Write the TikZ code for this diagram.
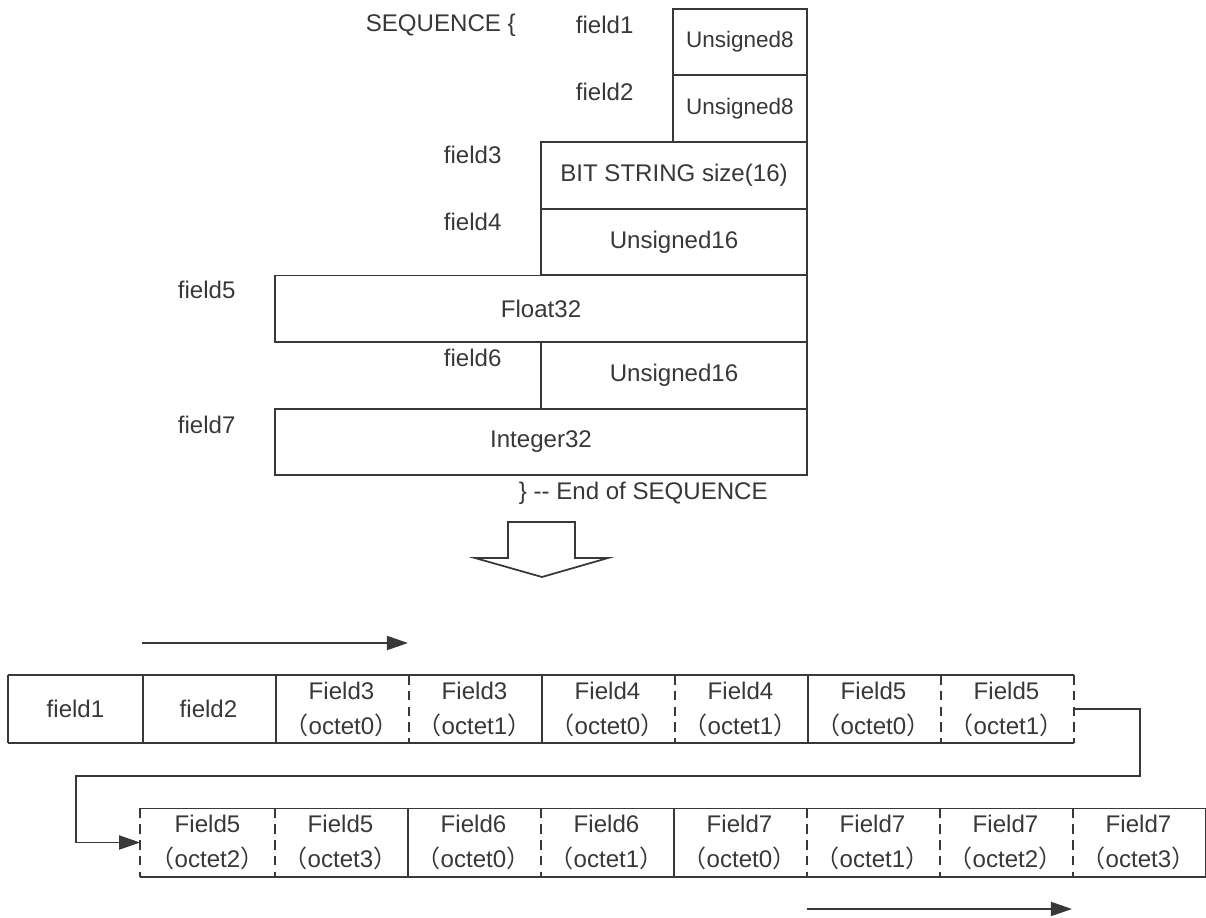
\documentclass[tikz,border=0pt]{standalone}
\usepackage{fontspec}
\setmainfont{Liberation Sans}
\newfontfamily\jpfont{Noto Sans CJK JP}
\usetikzlibrary{arrows.meta}
\definecolor{ink}{gray}{0.22}
\newcommand{\oct}[1]{{\jpfont （}octet#1{\jpfont ）}}

\begin{document}
\begin{tikzpicture}[x=0.02cm, y=-0.02cm, line width=1pt, draw=ink, text=ink,
    font=\fontsize{13.7}{16}\selectfont,
    typebox/.style={draw, fill=white, inner sep=0pt, minimum height=1.333cm},
    tag/.style={anchor=west, inner sep=0pt},
    cell/.style={inner sep=0pt, minimum width=2.66cm, minimum height=1.33cm,
        align=center, font=\fontsize{13.7}{20}\selectfont},
    cut/.style={dash pattern=on 5.5pt off 3.5pt},
    flow/.style={-{Triangle[length=12pt, width=8pt]}}]
    \useasboundingbox (0,0) rectangle (1206,918);

    % the SEQUENCE, one box per field
    \node[tag] (seqopen) at (365,25) {SEQUENCE \{};
    \node[typebox, minimum width=2.68cm, font=\fontsize{12.8}{15}\selectfont] (t1) at (740,42) {Unsigned8};
    \node[typebox, minimum width=2.68cm, font=\fontsize{12.8}{15}\selectfont] (t2) at (740,108.7) {Unsigned8};
    \node[typebox, minimum width=5.32cm] (t3) at (674,175.3) {BIT STRING size(16)};
    \node[typebox, minimum width=5.32cm] (t4) at (674,242) {Unsigned16};
    \node[typebox, minimum width=10.64cm] (t5) at (541,308.7) {Float32};
    \node[typebox, minimum width=5.32cm] (t6) at (674,375.3) {Unsigned16};
    \node[typebox, minimum width=10.64cm] (t7) at (541,442) {Integer32};
    \node[tag] (f1) at (575,25) {field1};
    \node[tag] (f2) at (575,92) {field2};
    \node[tag] (f3) at (443,155) {field3};
    \node[tag] (f4) at (443,222) {field4};
    \node[tag] (f5) at (177,290) {field5};
    \node[tag] (f6) at (443,358) {field6};
    \node[tag] (f7) at (177,425) {field7};
    \node[tag] (seqclose) at (518,493) {\} -{}- End of SEQUENCE};

    % hollow arrow
    \draw (508,522) -- (575,522) -- (575,558) -- (608,558) -- (542,577)
        -- (475,558) -- (508,558) -- cycle;

    % octets in order, first line
    \node[cell] (a1) at (75.5,709) {field1};
    \node[cell] (a2) at (208.5,709) {field2};
    \node[cell] (a3) at (341.5,709) {Field3\\\oct{0}};
    \node[cell] (a4) at (474.5,709) {Field3\\\oct{1}};
    \node[cell] (a5) at (607.5,709) {Field4\\\oct{0}};
    \node[cell] (a6) at (740.5,709) {Field4\\\oct{1}};
    \node[cell] (a7) at (873.5,709) {Field5\\\oct{0}};
    \node[cell] (a8) at (1006.5,709) {Field5\\\oct{1}};
    \draw (a1.north west) -- (a8.north east);
    \draw (a1.south west) -- (a8.south east);
    \draw (a1.north west) -- (a1.south west);
    \draw (a1.north east) -- (a1.south east);
    \draw (a2.north east) -- (a2.south east);
    \draw[cut] (a3.north east) -- (a3.south east);
    \draw (a4.north east) -- (a4.south east);
    \draw[cut] (a5.north east) -- (a5.south east);
    \draw (a6.north east) -- (a6.south east);
    \draw[cut] (a7.north east) -- (a7.south east);
    \draw[cut] (a8.north east) -- (a8.south east);

    % second line
    \node[cell] (b1) at (207.5,842.5) {Field5\\\oct{2}};
    \node[cell] (b2) at (340.5,842.5) {Field5\\\oct{3}};
    \node[cell] (b3) at (473.5,842.5) {Field6\\\oct{0}};
    \node[cell] (b4) at (606.5,842.5) {Field6\\\oct{1}};
    \node[cell] (b5) at (739.5,842.5) {Field7\\\oct{0}};
    \node[cell] (b6) at (872.5,842.5) {Field7\\\oct{1}};
    \node[cell] (b7) at (1005.5,842.5) {Field7\\\oct{2}};
    \node[cell] (b8) at (1138.5,842.5) {Field7\\\oct{3}};
    \draw (b1.north west) -- (b8.north east);
    \draw (b1.south west) -- (b8.south east);
    \draw[cut] (b1.north west) -- (b1.south west);
    \draw[cut] (b1.north east) -- (b1.south east);
    \draw (b2.north east) -- (b2.south east);
    \draw[cut] (b3.north east) -- (b3.south east);
    \draw (b4.north east) -- (b4.south east);
    \draw[cut] (b5.north east) -- (b5.south east);
    \draw[cut] (b6.north east) -- (b6.south east);
    \draw[cut] (b7.north east) -- (b7.south east);
    \draw (b8.north east) -- (b8.south east);

    % wrap from line one to line two
    \coordinate (bendR) at (1140,776);
    \coordinate (bendL) at (76,776);
    \draw[flow] (a8.east) -| (bendR) -- (bendL) |- (b1.west);

    % direction of transmission
    \coordinate (dirA) at (142,643);
    \coordinate (dirB) at (408,643);
    \coordinate (dirC) at (807,909);
    \coordinate (dirD) at (1072,909);
    \draw[flow] (dirA) -- (dirB);
    \draw[flow] (dirC) -- (dirD);
\end{tikzpicture}
\end{document}
